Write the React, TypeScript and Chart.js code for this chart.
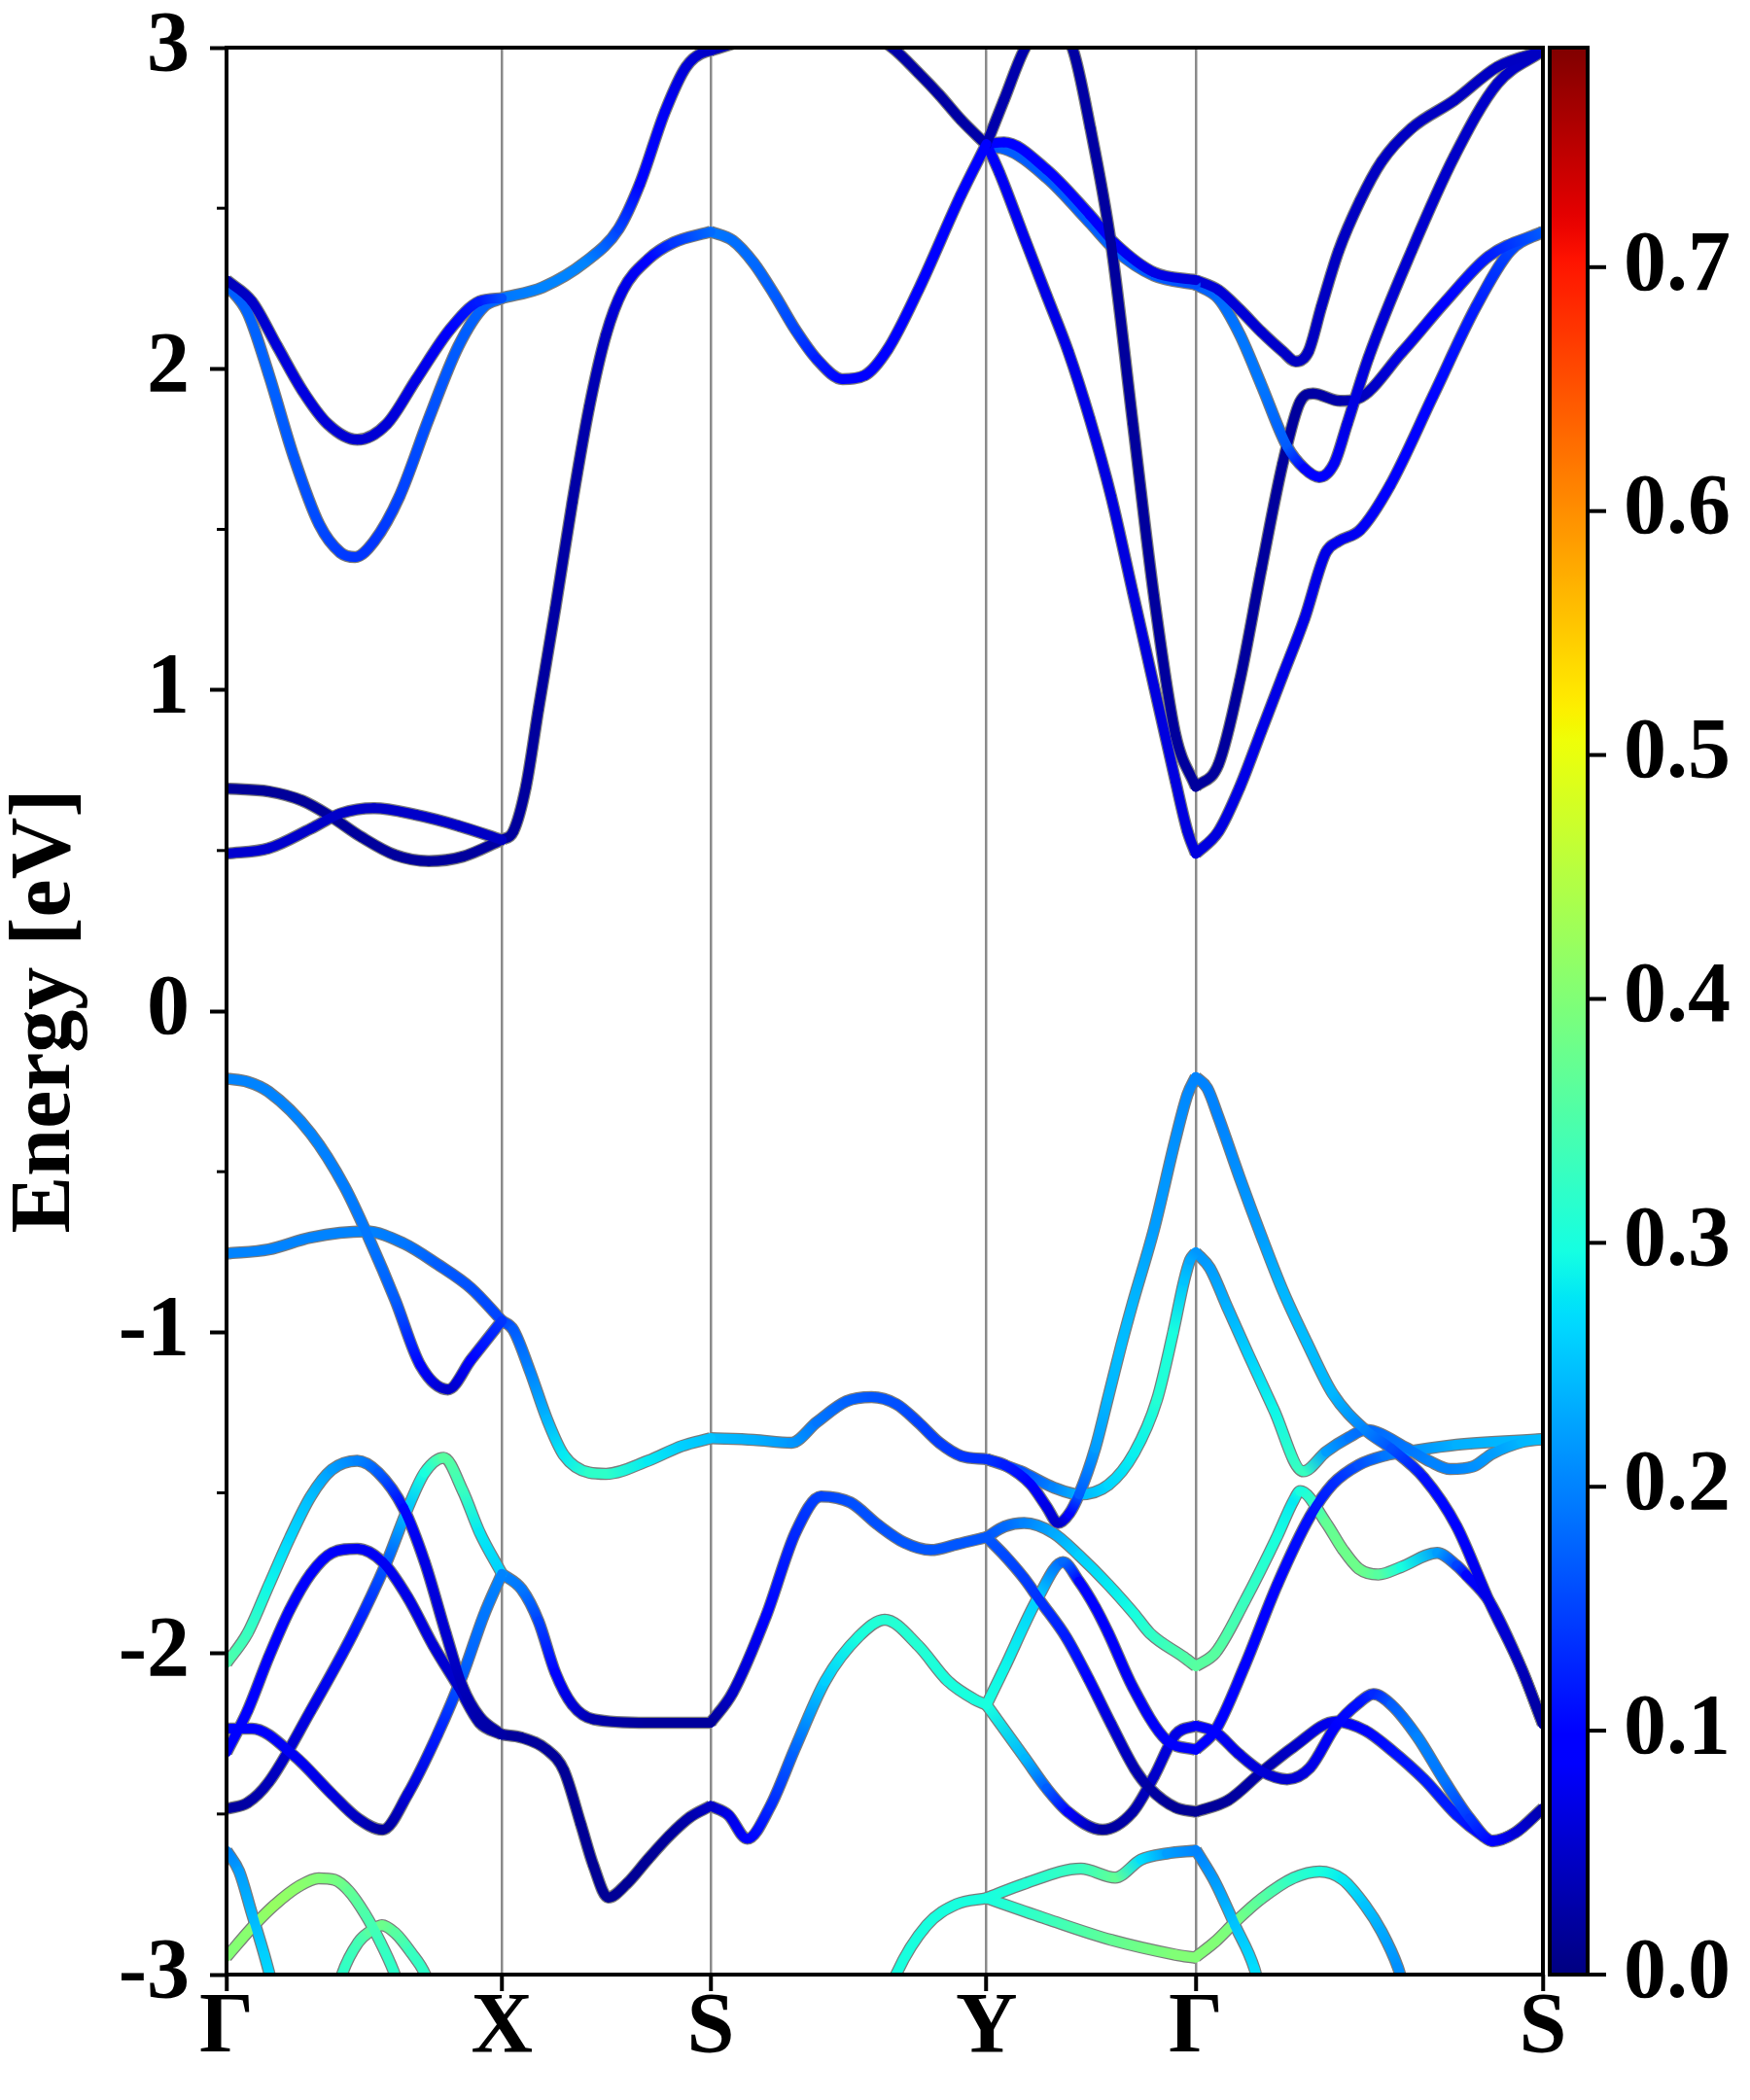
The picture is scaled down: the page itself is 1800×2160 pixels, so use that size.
import { useEffect, useRef } from 'react';
import { Chart, registerables } from 'chart.js';

Chart.register(...registerables);

type Pt = [number, number, number]; // [k-path position, energy (eV), projected weight]

// ---------- axes / ticks ----------
const K_TICKS = [0, 0.2092, 0.3677, 0.5773, 0.7363, 1];
const K_LABELS = ['Γ', 'X', 'S', 'Y', 'Γ', 'S'];
const E_MIN = -3;
const E_MAX = 3;
const E_MINOR = [-2.5, -1.5, -0.5, 0.5, 1.5, 2.5];
const CB_MAX = 0.79;
const CB_TICKS = [0, 0.1, 0.2, 0.3, 0.4, 0.5, 0.6, 0.7];

// ---------- conduction bands ----------
const cGX1: Pt[] = [[0, 0.49, 0.055], [0.032, 0.507, 0.055], [0.064, 0.568, 0.05], [0.0865, 0.615, 0.05], [0.1121, 0.632, 0.05], [0.1441, 0.611, 0.05], [0.1762, 0.577, 0.05], [0.2092, 0.533, 0.045]];
const cGX2: Pt[] = [[0, 0.693, 0.018], [0.032, 0.684, 0.018], [0.0577, 0.655, 0.018], [0.0785, 0.608, 0.02], [0.1025, 0.542, 0.02], [0.1281, 0.486, 0.02], [0.1537, 0.467, 0.02], [0.1794, 0.481, 0.02], [0.2092, 0.533, 0.025]];
const cGX3: Pt[] = [[0, 2.276, 0.04], [0.0192, 2.21, 0.05], [0.0384, 2.071, 0.06], [0.0577, 1.932, 0.065], [0.0769, 1.828, 0.06], [0.0993, 1.779, 0.055], [0.1217, 1.828, 0.06], [0.1441, 1.967, 0.07], [0.1698, 2.123, 0.085], [0.1922, 2.21, 0.12], [0.2092, 2.22, 0.16]];
const cGX4: Pt[] = [[0, 2.262, 0.17], [0.016, 2.175, 0.175], [0.032, 1.984, 0.175], [0.0512, 1.724, 0.165], [0.0705, 1.515, 0.155], [0.0865, 1.428, 0.145], [0.0977, 1.414, 0.14], [0.1121, 1.463, 0.14], [0.1313, 1.602, 0.15], [0.1537, 1.845, 0.16], [0.1762, 2.071, 0.17], [0.1954, 2.193, 0.175], [0.2092, 2.22, 0.18]];
const cXS1: Pt[] = [[0.2092, 0.533, 0.02], [0.2178, 0.559, 0.02], [0.2274, 0.698, 0.02], [0.237, 0.941, 0.02], [0.2498, 1.254, 0.025], [0.2627, 1.585, 0.025], [0.2755, 1.88, 0.03], [0.2883, 2.106, 0.045], [0.3011, 2.245, 0.07], [0.3203, 2.341, 0.1], [0.3395, 2.393, 0.14], [0.3677, 2.427, 0.18]];
const cXS2: Pt[] = [[0.2092, 2.22, 0.19], [0.2402, 2.254, 0.2], [0.2723, 2.332, 0.2], [0.2979, 2.436, 0.15], [0.3139, 2.575, 0.1], [0.3331, 2.801, 0.08], [0.3491, 2.94, 0.06], [0.3651, 2.989, 0.05], [0.3677, 2.99, 0.05]];
const cSY1: Pt[] = [[0.3677, 2.427, 0.19], [0.3844, 2.4, 0.185], [0.4004, 2.33, 0.18], [0.4164, 2.23, 0.17], [0.4324, 2.12, 0.15], [0.4484, 2.03, 0.12], [0.468, 1.968, 0.1], [0.485, 1.98, 0.095], [0.5022, 2.06, 0.09], [0.5255, 2.245, 0.09], [0.5578, 2.54, 0.09], [0.5773, 2.7, 0.09]];
const cSY2: Pt[] = [[0.3677, 2.99, 0.04], [0.39, 3.02, 0.035], [0.42, 3.07, 0.03], [0.45, 3.09, 0.03], [0.48, 3.06, 0.03], [0.5057, 3.0, 0.03], [0.5252, 2.923, 0.025], [0.5415, 2.853, 0.025], [0.558, 2.775, 0.025], [0.5773, 2.697, 0.03]];
const cYG1: Pt[] = [[0.5773, 2.7, 0.03], [0.5905, 2.836, 0.03], [0.6067, 3.0, 0.03], [0.623, 3.08, 0.03], [0.6425, 3.0, 0.025], [0.6562, 2.75, 0.025], [0.6719, 2.39, 0.02], [0.6885, 1.83, 0.02], [0.7046, 1.29, 0.02], [0.7209, 0.86, 0.02], [0.7363, 0.698, 0.02]];
const cYG2: Pt[] = [[0.5773, 2.7, 0.09], [0.5872, 2.61, 0.08], [0.6067, 2.401, 0.075], [0.623, 2.228, 0.07], [0.6394, 2.054, 0.07], [0.6557, 1.845, 0.07], [0.672, 1.602, 0.065], [0.6883, 1.307, 0.065], [0.7046, 1.011, 0.065], [0.7209, 0.716, 0.065], [0.73, 0.56, 0.065], [0.7363, 0.49, 0.065]];
const cYG3: Pt[] = [[0.5773, 2.7, 0.09], [0.5905, 2.705, 0.095], [0.623, 2.62, 0.09], [0.6557, 2.48, 0.085], [0.675, 2.39, 0.08], [0.7046, 2.3, 0.07], [0.7363, 2.276, 0.06]];
const cYG4: Pt[] = [[0.5773, 2.69, 0.16], [0.5905, 2.685, 0.17], [0.623, 2.595, 0.17], [0.6557, 2.455, 0.17], [0.675, 2.37, 0.175], [0.7046, 2.29, 0.17], [0.7363, 2.262, 0.16]];
const cGS1: Pt[] = [[0.7363, 2.276, 0.06], [0.7535, 2.245, 0.06], [0.7698, 2.184, 0.06], [0.7861, 2.115, 0.055], [0.8024, 2.054, 0.05], [0.8122, 2.023, 0.045], [0.8219, 2.054, 0.045], [0.8317, 2.193, 0.045], [0.8448, 2.367, 0.045], [0.8611, 2.523, 0.045], [0.8774, 2.645, 0.045], [0.9002, 2.749, 0.045], [0.9328, 2.836, 0.045], [0.9654, 2.94, 0.045], [1, 2.99, 0.045]];
const cGS2: Pt[] = [[0.7363, 2.262, 0.17], [0.7535, 2.219, 0.18], [0.7698, 2.106, 0.19], [0.7861, 1.95, 0.19], [0.8057, 1.758, 0.17], [0.8187, 1.69, 0.1], [0.8301, 1.663, 0.09], [0.8415, 1.706, 0.08], [0.8513, 1.828, 0.07], [0.8676, 2.036, 0.06], [0.9002, 2.367, 0.055], [0.9328, 2.662, 0.05], [0.9654, 2.888, 0.05], [1, 2.99, 0.045]];
const cGS3: Pt[] = [[0.7363, 0.698, 0.02], [0.7535, 0.768, 0.02], [0.7698, 1.03, 0.02], [0.7861, 1.376, 0.02], [0.8024, 1.706, 0.02], [0.8155, 1.897, 0.02], [0.8253, 1.923, 0.025], [0.8459, 1.9, 0.03], [0.8589, 1.906, 0.04], [0.8934, 2.054, 0.07], [0.9261, 2.21, 0.09], [0.9587, 2.35, 0.12], [1, 2.427, 0.17]];
const cGS4: Pt[] = [[0.7363, 0.49, 0.065], [0.7535, 0.559, 0.065], [0.7698, 0.698, 0.07], [0.7861, 0.872, 0.07], [0.8024, 1.046, 0.07], [0.8187, 1.22, 0.07], [0.8351, 1.428, 0.07], [0.8448, 1.463, 0.075], [0.8611, 1.498, 0.08], [0.8839, 1.637, 0.09], [0.9165, 1.915, 0.1], [0.9491, 2.193, 0.12], [0.9752, 2.367, 0.15], [1, 2.427, 0.17]];

// ---------- valence bands ----------
const vGX1: Pt[] = [[0, -0.21, 0.2], [0.016, -0.22, 0.2], [0.032, -0.251, 0.2], [0.064, -0.381, 0.2], [0.0897, -0.547, 0.195], [0.1089, -0.714, 0.19], [0.1281, -0.899, 0.17], [0.1473, -1.103, 0.1], [0.1682, -1.178, 0.05], [0.1858, -1.085, 0.09], [0.2092, -0.964, 0.14]];
const vGX2: Pt[] = [[0, -0.755, 0.2], [0.032, -0.742, 0.2], [0.064, -0.705, 0.2], [0.1057, -0.686, 0.2], [0.1345, -0.723, 0.19], [0.1602, -0.788, 0.17], [0.1858, -0.863, 0.16], [0.2092, -0.964, 0.15]];
const vGX3: Pt[] = [[0, -2.03, 0.35], [0.016, -1.937, 0.33], [0.032, -1.789, 0.29], [0.048, -1.641, 0.265], [0.064, -1.511, 0.245], [0.08, -1.428, 0.22], [0.0993, -1.4, 0.2], [0.1153, -1.437, 0.17], [0.1345, -1.548, 0.1], [0.1505, -1.715, 0.07], [0.1666, -1.937, 0.055], [0.1794, -2.104, 0.04], [0.1922, -2.197, 0.03], [0.2092, -2.253, 0.025]];
const vGX4: Pt[] = [[0, -2.308, 0.09], [0.016, -2.178, 0.09], [0.032, -2.012, 0.085], [0.048, -1.864, 0.085], [0.064, -1.752, 0.085], [0.08, -1.687, 0.085], [0.0993, -1.674, 0.08], [0.1185, -1.715, 0.08], [0.1377, -1.826, 0.07], [0.157, -1.975, 0.06], [0.1762, -2.104, 0.05], [0.1922, -2.216, 0.03], [0.2092, -2.253, 0.025]];
const vGX5: Pt[] = [[0, -2.234, 0.1], [0.0192, -2.234, 0.09], [0.0512, -2.318, 0.08], [0.0801, -2.438, 0.065], [0.0993, -2.512, 0.045], [0.1185, -2.549, 0.02], [0.1377, -2.438, 0.06], [0.1602, -2.253, 0.12], [0.1794, -2.067, 0.17], [0.1954, -1.882, 0.19], [0.2092, -1.752, 0.2]];
const vGX6: Pt[] = [[0, -2.484, 0.02], [0.016, -2.465, 0.025], [0.032, -2.401, 0.04], [0.064, -2.178, 0.07], [0.0961, -1.938, 0.11], [0.1217, -1.715, 0.17], [0.1377, -1.548, 0.25], [0.1505, -1.437, 0.3], [0.165, -1.391, 0.36], [0.1794, -1.493, 0.33], [0.1922, -1.622, 0.28], [0.2092, -1.752, 0.26]];
const vGX7: Pt[] = [[0, -2.614, 0.2], [0.0096, -2.679, 0.22], [0.0192, -2.809, 0.24], [0.0288, -2.94, 0.26], [0.036, -3.05, 0.27]];
const vGX8: Pt[] = [[0, -2.945, 0.4], [0.021, -2.846, 0.41], [0.036, -2.785, 0.42], [0.055, -2.725, 0.41], [0.07, -2.7, 0.4], [0.082, -2.705, 0.39], [0.093, -2.74, 0.37], [0.105, -2.81, 0.35], [0.117, -2.9, 0.33], [0.127, -2.99, 0.32], [0.132, -3.05, 0.32]];
const vGX9: Pt[] = [[0.084, -3.06, 0.32], [0.0877, -3.0, 0.32], [0.1, -2.9, 0.34], [0.1089, -2.866, 0.36], [0.118, -2.846, 0.38], [0.128, -2.87, 0.36], [0.14, -2.93, 0.33], [0.151, -3.0, 0.32], [0.155, -3.05, 0.32]];
const vXS1: Pt[] = [[0.2092, -0.964, 0.15], [0.2178, -0.992, 0.17], [0.2306, -1.122, 0.2], [0.2434, -1.27, 0.24], [0.2562, -1.382, 0.28], [0.2755, -1.437, 0.32], [0.2883, -1.441, 0.32], [0.3203, -1.4, 0.28], [0.3459, -1.354, 0.26], [0.3677, -1.33, 0.25]];
const vXS2: Pt[] = [[0.2092, -1.752, 0.2], [0.2242, -1.8, 0.19], [0.237, -1.9, 0.15], [0.2498, -2.06, 0.1], [0.2627, -2.16, 0.06], [0.2787, -2.205, 0.03], [0.32, -2.216, 0.02], [0.3677, -2.216, 0.02]];
const vXS3: Pt[] = [[0.2092, -2.253, 0.02], [0.2242, -2.262, 0.02], [0.2434, -2.3, 0.02], [0.2562, -2.364, 0.015], [0.2691, -2.531, 0.015], [0.2787, -2.66, 0.015], [0.2899, -2.76, 0.015], [0.3043, -2.716, 0.015], [0.3203, -2.64, 0.015], [0.3363, -2.568, 0.02], [0.352, -2.51, 0.03], [0.3677, -2.475, 0.05]];
const vSY1: Pt[] = [[0.3677, -1.33, 0.245], [0.4004, -1.335, 0.235], [0.4292, -1.344, 0.215], [0.4484, -1.28, 0.19], [0.4709, -1.215, 0.175], [0.49, -1.202, 0.165], [0.509, -1.224, 0.16], [0.5253, -1.28, 0.15], [0.5416, -1.344, 0.145], [0.558, -1.385, 0.14], [0.5773, -1.395, 0.135]];
const vSY2: Pt[] = [[0.3677, -2.216, 0.02], [0.3844, -2.123, 0.05], [0.41, -1.882, 0.09], [0.4324, -1.622, 0.13], [0.4516, -1.511, 0.15], [0.474, -1.53, 0.16], [0.495, -1.6, 0.16], [0.515, -1.655, 0.165], [0.535, -1.678, 0.165], [0.555, -1.66, 0.165], [0.5773, -1.638, 0.165]];
const vSY3: Pt[] = [[0.3677, -2.475, 0.05], [0.3812, -2.503, 0.07], [0.3956, -2.577, 0.09], [0.4132, -2.475, 0.13], [0.4324, -2.29, 0.18], [0.4548, -2.086, 0.26], [0.4804, -1.947, 0.3], [0.5, -1.895, 0.31], [0.5253, -1.975, 0.31], [0.548, -2.086, 0.3], [0.5676, -2.142, 0.3], [0.5773, -2.16, 0.3]];
const vSY4: Pt[] = [[0.498, -3.12, 0.3], [0.5086, -3.0, 0.3], [0.532, -2.846, 0.3], [0.5545, -2.781, 0.3], [0.5773, -2.762, 0.3]];
const vYG1: Pt[] = [[0.5773, -1.395, 0.14], [0.5911, -1.413, 0.12], [0.6108, -1.473, 0.09], [0.6231, -1.544, 0.07], [0.6317, -1.594, 0.05], [0.6403, -1.564, 0.1], [0.6477, -1.504, 0.17], [0.66, -1.36, 0.22], [0.6699, -1.2, 0.24], [0.6797, -1.04, 0.245], [0.6883, -0.91, 0.24], [0.7047, -0.677, 0.22], [0.7208, -0.4, 0.21], [0.73, -0.26, 0.205], [0.7363, -0.205, 0.2]];
const vYG2: Pt[] = [[0.5773, -1.395, 0.14], [0.6034, -1.433, 0.16], [0.628, -1.483, 0.2], [0.6477, -1.505, 0.24], [0.67, -1.475, 0.265], [0.6896, -1.375, 0.285], [0.7068, -1.21, 0.31], [0.7191, -1.0, 0.3], [0.7274, -0.84, 0.25], [0.732, -0.775, 0.23], [0.7363, -0.751, 0.215]];
const vYG3: Pt[] = [[0.5773, -1.638, 0.165], [0.5911, -1.605, 0.18], [0.6059, -1.594, 0.2], [0.628, -1.625, 0.23], [0.6477, -1.695, 0.26], [0.6699, -1.786, 0.28], [0.6896, -1.877, 0.3], [0.7017, -1.938, 0.32], [0.7274, -2.012, 0.35], [0.7363, -2.04, 0.36]];
const vYG4: Pt[] = [[0.5773, -1.638, 0.165], [0.5911, -1.695, 0.155], [0.6059, -1.766, 0.145], [0.6182, -1.837, 0.135], [0.6379, -1.95, 0.12], [0.655, -2.08, 0.09], [0.672, -2.22, 0.06], [0.69, -2.36, 0.035], [0.7013, -2.42, 0.025], [0.721, -2.48, 0.015], [0.7363, -2.493, 0.015]];
const vYG5: Pt[] = [[0.5773, -2.16, 0.3], [0.5905, -2.049, 0.29], [0.6165, -1.826, 0.26], [0.6354, -1.716, 0.18], [0.6477, -1.776, 0.1], [0.66, -1.857, 0.09], [0.67, -1.938, 0.085], [0.6883, -2.104, 0.08], [0.7143, -2.271, 0.085], [0.7363, -2.3, 0.09]];
const vYG6: Pt[] = [[0.5773, -2.16, 0.3], [0.6067, -2.327, 0.24], [0.623, -2.42, 0.17], [0.6394, -2.494, 0.1], [0.6655, -2.549, 0.02], [0.6883, -2.494, 0.03], [0.7046, -2.383, 0.05], [0.7209, -2.253, 0.07], [0.7363, -2.225, 0.085]];
const vYG7: Pt[] = [[0.5773, -2.762, 0.3], [0.6067, -2.716, 0.31], [0.649, -2.67, 0.33], [0.6751, -2.698, 0.37], [0.6947, -2.642, 0.27], [0.7143, -2.623, 0.22], [0.7363, -2.614, 0.2]];
const vYG8: Pt[] = [[0.5773, -2.762, 0.3], [0.6231, -2.827, 0.33], [0.672, -2.892, 0.37], [0.7208, -2.938, 0.4], [0.7363, -2.948, 0.4]];
const vGS1: Pt[] = [[0.7363, -0.205, 0.2], [0.745, -0.24, 0.2], [0.7535, -0.33, 0.2], [0.7698, -0.52, 0.21], [0.7861, -0.7, 0.22], [0.8024, -0.87, 0.24], [0.8205, -1.03, 0.245], [0.8403, -1.191, 0.24], [0.865, -1.304, 0.2], [0.8848, -1.362, 0.16], [0.9096, -1.453, 0.11], [0.9344, -1.604, 0.09], [0.9591, -1.837, 0.07], [0.9839, -2.049, 0.04], [1, -2.22, 0.02]];
const vGS2: Pt[] = [[0.7363, -0.751, 0.215], [0.747, -0.8, 0.22], [0.76, -0.92, 0.235], [0.7764, -1.07, 0.26], [0.7955, -1.24, 0.29], [0.818, -1.433, 0.33], [0.8353, -1.372, 0.22], [0.8527, -1.327, 0.19], [0.865, -1.304, 0.18], [0.8973, -1.362, 0.19], [0.9146, -1.403, 0.2], [0.9295, -1.426, 0.2], [0.9468, -1.418, 0.21], [0.9616, -1.378, 0.22], [0.9839, -1.342, 0.24], [1, -1.333, 0.245]];
const vGS3: Pt[] = [[0.7363, -2.3, 0.09], [0.7511, -2.24, 0.09], [0.7735, -2.038, 0.09], [0.7982, -1.786, 0.1], [0.823, -1.574, 0.11], [0.8403, -1.473, 0.13], [0.8601, -1.413, 0.16], [0.8799, -1.384, 0.19], [0.8998, -1.37, 0.21], [0.9344, -1.35, 0.235], [1, -1.333, 0.245]];
const vGS4: Pt[] = [[0.7363, -2.04, 0.36], [0.7512, -1.998, 0.36], [0.7735, -1.837, 0.33], [0.7982, -1.635, 0.3], [0.8106, -1.524, 0.28], [0.8156, -1.495, 0.3], [0.8354, -1.594, 0.37], [0.8478, -1.675, 0.38], [0.8601, -1.736, 0.38], [0.875, -1.754, 0.36], [0.8923, -1.731, 0.3], [0.9196, -1.687, 0.22], [0.9344, -1.726, 0.15], [0.9417, -1.756, 0.1], [0.9591, -1.837, 0.07], [0.9839, -2.049, 0.04], [1, -2.22, 0.02]];
const vGS5: Pt[] = [[0.7363, -2.225, 0.09], [0.7512, -2.245, 0.085], [0.7685, -2.311, 0.07], [0.7858, -2.366, 0.06], [0.8057, -2.392, 0.055], [0.823, -2.356, 0.07], [0.8428, -2.225, 0.09], [0.8601, -2.154, 0.11], [0.8713, -2.127, 0.13], [0.8849, -2.16, 0.17], [0.9047, -2.26, 0.2], [0.9245, -2.392, 0.19], [0.9443, -2.513, 0.14], [0.9616, -2.583, 0.1], [0.979, -2.558, 0.06], [1, -2.482, 0.03]];
const vGS6: Pt[] = [[0.7363, -2.493, 0.015], [0.761, -2.457, 0.02], [0.7858, -2.371, 0.03], [0.8106, -2.291, 0.05], [0.8428, -2.212, 0.08], [0.865, -2.24, 0.1], [0.8849, -2.301, 0.11], [0.9097, -2.392, 0.12], [0.9344, -2.503, 0.12], [0.9542, -2.568, 0.1], [0.9616, -2.585, 0.09], [0.979, -2.558, 0.06], [1, -2.482, 0.03]];
const vGS7: Pt[] = [[0.7363, -2.612, 0.2], [0.7512, -2.714, 0.22], [0.766, -2.846, 0.25], [0.7809, -2.982, 0.27], [0.785, -3.05, 0.27]];
const vGS8: Pt[] = [[0.7363, -2.945, 0.4], [0.7512, -2.897, 0.4], [0.766, -2.837, 0.39], [0.7858, -2.765, 0.36], [0.8106, -2.699, 0.32], [0.8304, -2.679, 0.3], [0.8478, -2.704, 0.28], [0.865, -2.785, 0.25], [0.8775, -2.866, 0.23], [0.8898, -2.977, 0.21], [0.895, -3.05, 0.2]];

const BANDS: Pt[][] = [
  cGX1, cGX2, cGX3, cGX4, cXS1, cXS2, cSY1, cSY2, cYG1, cYG2, cYG3, cYG4, cGS1, cGS2, cGS3, cGS4,
  vGX1, vGX2, vGX3, vGX4, vGX5, vGX6, vGX7, vGX8, vGX9, vXS1, vXS2, vXS3, vSY1, vSY2, vSY3, vSY4,
  vYG1, vYG2, vYG3, vYG4, vYG5, vYG6, vYG7, vYG8, vGS1, vGS2, vGS3, vGS4, vGS5, vGS6, vGS7, vGS8,
];

// ---------- style ----------
const FONT_FAMILY = "'Liberation Serif', 'Times New Roman', Times, serif";
const FONT_SIZE = 88;

const JET_R = [[0, 0], [0.35, 0], [0.66, 1], [0.89, 1], [1, 0.5]];
const JET_G = [[0, 0], [0.125, 0], [0.375, 1], [0.64, 1], [0.91, 0], [1, 0]];
const JET_B = [[0, 0.5], [0.11, 1], [0.34, 1], [0.65, 0], [1, 0]];

function lerpTable(tab: number[][], t: number): number {
  for (let i = 1; i < tab.length; i++) {
    if (t <= tab[i][0]) {
      const x0 = tab[i - 1][0], y0 = tab[i - 1][1], x1 = tab[i][0], y1 = tab[i][1];
      return y0 + ((y1 - y0) * (t - x0)) / (x1 - x0);
    }
  }
  return tab[tab.length - 1][1];
}

function jet(w: number): string {
  const t = Math.min(1, Math.max(0, w / CB_MAX));
  const r = Math.round(255 * lerpTable(JET_R, t));
  const g = Math.round(255 * lerpTable(JET_G, t));
  const b = Math.round(255 * lerpTable(JET_B, t));
  return `rgb(${r},${g},${b})`;
}

const decorPlugin = {
  id: 'decor',
  afterDraw(chart: any) {
    const { ctx, chartArea: a, scales } = chart;
    const y = scales.y;
    const cb = scales.cb;
    ctx.save();
    ctx.strokeStyle = '#000';
    // minor ticks on energy axis
    ctx.lineWidth = 3;
    E_MINOR.forEach((v) => {
      const p = y.getPixelForValue(v);
      ctx.beginPath();
      ctx.moveTo(a.left - 10, p);
      ctx.lineTo(a.left, p);
      ctx.stroke();
    });
    // frame
    ctx.lineWidth = 4;
    ctx.strokeRect(a.left, a.top, a.right - a.left, a.bottom - a.top);
    // colorbar
    const cl = a.right + 7;
    const cr = a.right + 46;
    const top = cb.getPixelForValue(CB_MAX);
    const bot = cb.getPixelForValue(0);
    const grad = ctx.createLinearGradient(0, bot, 0, top);
    for (let i = 0; i <= 128; i++) grad.addColorStop(i / 128, jet((i / 128) * CB_MAX));
    ctx.fillStyle = grad;
    ctx.fillRect(cl, top, cr - cl, bot - top);
    ctx.strokeRect(cl, top, cr - cl, bot - top);
    ctx.font = `bold ${FONT_SIZE}px ${FONT_FAMILY}`;
    ctx.fillStyle = '#000';
    ctx.textAlign = 'left';
    ctx.textBaseline = 'middle';
    CB_TICKS.forEach((v) => {
      const p = cb.getPixelForValue(v);
      ctx.beginPath();
      ctx.moveTo(cr + 2, p);
      ctx.lineTo(cr + 19, p);
      ctx.stroke();
      ctx.fillText(v.toFixed(1), cr + 37, p);
    });
    ctx.restore();
  },
};

export default function App() {
  const ref = useRef<HTMLCanvasElement | null>(null);

  useEffect(() => {
    const canvas = ref.current;
    if (!canvas) return;
    const ctx2d = canvas.getContext('2d') as CanvasRenderingContext2D;

    const datasets: any[] = [];
    BANDS.forEach((band) => {
      const base = {
        pointRadius: 0,
        pointHitRadius: 0,
        cubicInterpolationMode: 'monotone',
        capBezierPoints: false,
        clip: 0,
        fill: false,
        xAxisID: 'x',
        yAxisID: 'y',
      };
      datasets.push({
        ...base,
        data: band.map((p) => ({ x: p[0], y: p[1] })),
        borderColor: '#7a7a7a',
        borderWidth: 12.5,
        order: 2,
      });
      datasets.push({
        ...base,
        data: band.map((p) => ({ x: p[0], y: p[1] })),
        borderColor: jet(band[0][2]),
        borderWidth: 10,
        borderCapStyle: 'round',
        borderJoinStyle: 'round',
        order: 1,
        segment: {
          borderColor: (sc: any) => {
            const g = ctx2d.createLinearGradient(sc.p0.x, sc.p0.y, sc.p1.x, sc.p1.y);
            g.addColorStop(0, jet(band[sc.p0DataIndex][2]));
            g.addColorStop(1, jet(band[sc.p1DataIndex][2]));
            return g;
          },
        },
      });
    });

    const xTickFont = { family: FONT_FAMILY, size: FONT_SIZE, weight: 'bold' as const, lineHeight: 0.8 };
    const yTickFont = { family: FONT_FAMILY, size: FONT_SIZE, weight: 'bold' as const, lineHeight: 0.3 };

    const chart = new Chart(ctx2d, {
      type: 'line',
      data: { datasets },
      plugins: [decorPlugin],
      options: {
        responsive: false,
        animation: false,
        devicePixelRatio: 1,
        events: [],
        layout: { padding: { left: 0, top: 49, right: 213, bottom: 0 } },
        plugins: { legend: { display: false }, tooltip: { enabled: false } },
        scales: {
          x: {
            type: 'linear',
            min: 0,
            max: 1,
            afterBuildTicks: (s: any) => {
              s.ticks = K_TICKS.map((v) => ({ value: v }));
            },
            afterFit: (s: any) => {
              s.height = 129;
            },
            ticks: {
              autoSkip: false,
              maxRotation: 0,
              minRotation: 0,
              padding: 4,
              color: '#000',
              font: xTickFont,
              callback: (_v: any, i: number) => K_LABELS[i],
            },
            grid: { color: '#8a8a8a', lineWidth: 2.5, tickLength: 17, tickWidth: 4, tickColor: '#000' },
            border: { display: false },
          },
          y: {
            type: 'linear',
            position: 'left',
            min: E_MIN,
            max: E_MAX,
            afterFit: (s: any) => {
              s.width = 233;
            },
            ticks: {
              stepSize: 1,
              padding: 21,
              color: '#000',
              font: yTickFont,
              callback: (v: any) => String(v),
            },
            grid: { drawOnChartArea: false, tickLength: 17, tickWidth: 4, tickColor: '#000' },
            border: { display: false },
            title: {
              display: true,
              text: 'Energy [eV]',
              color: '#000',
              font: { family: FONT_FAMILY, size: FONT_SIZE, weight: 'bold', lineHeight: 1 },
              padding: { top: 4, bottom: 0 },
            },
          },
          cb: {
            type: 'linear',
            position: 'right',
            display: false,
            min: 0,
            max: CB_MAX,
          },
        },
      } as any,
    } as any);

    return () => chart.destroy();
  }, []);

  return (
    <div style={{ position: 'absolute', left: 0, top: 0, width: 1800, height: 2160, background: '#fff' }}>
      <canvas ref={ref} width={1800} height={2160} style={{ width: 1800, height: 2160, display: 'block' }} />
    </div>
  );
}
